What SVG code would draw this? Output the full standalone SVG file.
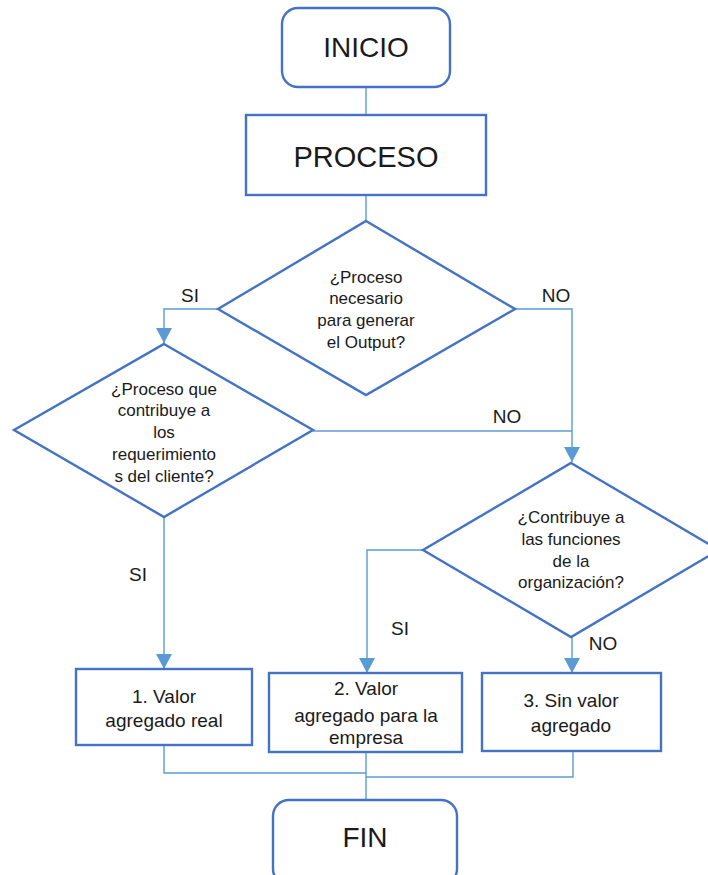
<svg xmlns="http://www.w3.org/2000/svg" width="708" height="875" viewBox="0 0 708 875">
  <defs>
    <marker id="arrow" viewBox="0 0 15 16" refX="15" refY="8" markerWidth="15" markerHeight="16" markerUnits="userSpaceOnUse" orient="auto">
      <path d="M0,0 L15,8 L0,16 Z" fill="#5B9BD5"/>
    </marker>
    <style>
      .node { fill: #ffffff; stroke: #4472C4; stroke-width: 2.4; }
      .conn { fill: none; stroke: #5B9BD5; stroke-width: 1.4; }
      .t { font-family: "Liberation Sans", Arial, sans-serif; fill: #1a1a1a; text-anchor: middle; }
      .big { font-size: 28px; }
      .dq { font-size: 17px; }
      .bx { font-size: 19px; }
      .lbl { font-family: "Liberation Sans", Arial, sans-serif; fill: #1a1a1a; font-size: 19px; text-anchor: middle; }
    </style>
  </defs>

  <rect width="708" height="875" fill="#ffffff"/>

  <!-- connectors -->
  <g id="connectors">
    <path class="conn" d="M366,87 V115"/>
    <path class="conn" d="M366,195 V221"/>
    <!-- decision 1: SI -->
    <path class="conn" d="M218,309 H164 V343" marker-end="url(#arrow)"/>
    <!-- decision 1: NO -->
    <path class="conn" d="M515,309 H572 V462" marker-end="url(#arrow)"/>
    <!-- decision 2: NO -->
    <path class="conn" d="M313,431 H572"/>
    <!-- decision 2: SI -->
    <path class="conn" d="M164,517 V669" marker-end="url(#arrow)"/>
    <!-- decision 3: SI -->
    <path class="conn" d="M423,550 H367 V673" marker-end="url(#arrow)"/>
    <!-- decision 3: NO -->
    <path class="conn" d="M572,637 V673" marker-end="url(#arrow)"/>
    <!-- merge into FIN -->
    <path class="conn" d="M164,745 V773 H366"/>
    <path class="conn" d="M573,751 V777 H366"/>
    <path class="conn" d="M366,752 V800"/>
    <!-- labels -->
    <text class="lbl" x="190" y="302">SI</text>
    <text class="lbl" x="556" y="302">NO</text>
    <text class="lbl" x="507" y="423">NO</text>
    <text class="lbl" x="138" y="581">SI</text>
    <text class="lbl" x="400" y="635">SI</text>
    <text class="lbl" x="603" y="650">NO</text>
  </g>

  <g id="inicio">
    <rect class="node" x="282" y="8" width="168" height="79" rx="16"/>
    <text class="t big" x="366" y="57">INICIO</text>
  </g>

  <g id="proceso">
    <rect class="node" x="246" y="115" width="240" height="80"/>
    <text class="t" x="366" y="167" font-size="29">PROCESO</text>
  </g>

  <g id="decision-output">
    <polygon class="node" points="366,221 515,309 366,395 218,309"/>
    <text class="t dq" x="366" y="283">¿Proceso</text>
    <text class="t dq" x="366" y="304">necesario</text>
    <text class="t dq" x="366" y="326">para generar</text>
    <text class="t dq" x="366" y="348">el Output?</text>
  </g>

  <g id="decision-cliente">
    <polygon class="node" points="164,344 313,430 164,517 14,430"/>
    <text class="t dq" x="164" y="395">¿Proceso que</text>
    <text class="t dq" x="164" y="416">contribuye a</text>
    <text class="t dq" x="164" y="438">los</text>
    <text class="t dq" x="164" y="460">requerimiento</text>
    <text class="t dq" x="164" y="482">s del cliente?</text>
  </g>

  <g id="decision-organizacion">
    <polygon class="node" points="571,463 719,550 571,637 423,550"/>
    <text class="t dq" x="571" y="523">¿Contribuye a</text>
    <text class="t dq" x="571" y="545">las funciones</text>
    <text class="t dq" x="571" y="567">de la</text>
    <text class="t dq" x="571" y="588">organización?</text>
  </g>

  <g id="valor-real">
    <rect class="node" x="76" y="669" width="176" height="76"/>
    <text class="t bx" x="164" y="703">1. Valor</text>
    <text class="t bx" x="164" y="727">agregado real</text>
  </g>

  <g id="valor-empresa">
    <rect class="node" x="269" y="673" width="193" height="79"/>
    <text class="t bx" x="366" y="695">2. Valor</text>
    <text class="t bx" x="366" y="722">agregado para la</text>
    <text class="t bx" x="366" y="744">empresa</text>
  </g>

  <g id="sin-valor">
    <rect class="node" x="482" y="673" width="179" height="78"/>
    <text class="t bx" x="571" y="707">3. Sin valor</text>
    <text class="t bx" x="571" y="732">agregado</text>
  </g>

  <g id="fin">
    <rect class="node" x="273" y="800" width="184" height="85" rx="16"/>
    <text class="t big" x="365" y="847">FIN</text>
  </g>
</svg>
